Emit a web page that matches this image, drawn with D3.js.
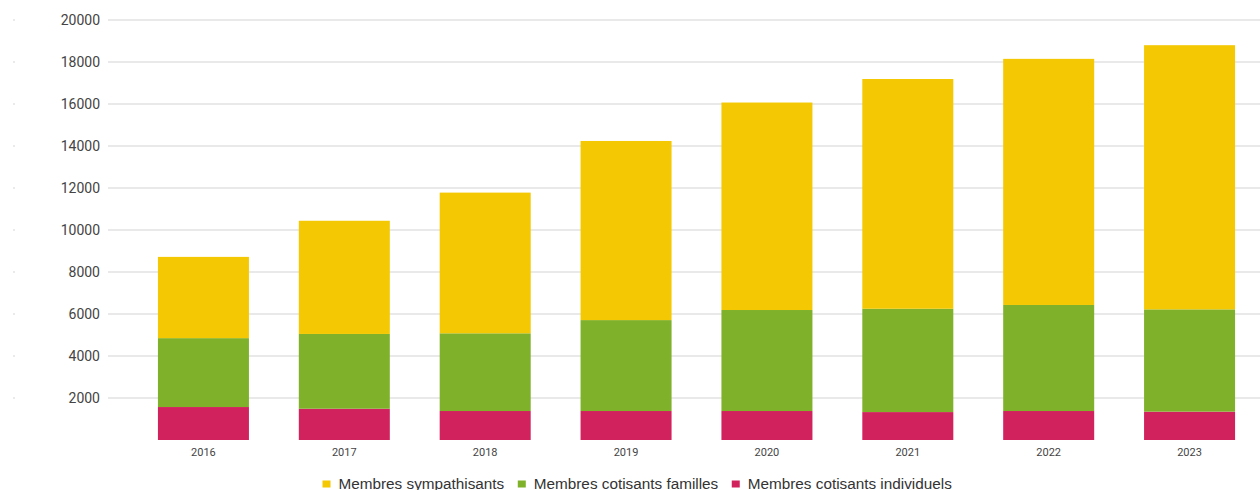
<!DOCTYPE html>
<html>
<head>
<meta charset="utf-8">
<script src="https://cdn.jsdelivr.net/npm/d3@7"></script>
<style>
  body { margin: 0; background: #fff; }
</style>
</head>
<body>
<div id="here"></div>
<script>
var years = ['2016', '2017', '2018', '2019', '2020', '2021', '2022', '2023'];
var individuels = [1570, 1490, 1380, 1380, 1380, 1330, 1380, 1350];
var familles = [3280, 3560, 3700, 4330, 4810, 4920, 5050, 4870];
var sympathisants = [3870, 5390, 6700, 8530, 9880, 10940, 11720, 12580];
var yTicks = [2000, 4000, 6000, 8000, 10000, 12000, 14000, 16000, 18000, 20000];

var series = [
  {name: 'Membres sympathisants', color: '#f4c802'},
  {name: 'Membres cotisants familles', color: '#7fb22a'},
  {name: 'Membres cotisants individuels', color: '#d2225e'}
];

var w = 1260, h = 490;

var rows = years.map(function(y, i) {
  return {year: y, ind: individuels[i], fam: familles[i], sym: sympathisants[i]};
});
var stacked = d3.stack().keys(['ind', 'fam', 'sym'])(rows);
var colors = {ind: '#d2225e', fam: '#7fb22a', sym: '#f4c802'};

var x = d3.scaleBand().domain(years).range([133, 1260]).paddingInner(0.354).paddingOuter(0.177);
var y = d3.scaleLinear().domain([0, 20000]).range([440, 20]);

var svg = d3.select('#here').append('svg')
  .attr('width', w)
  .attr('height', h)
  .style('display', 'block');

// grid + tick labels
var grid = svg.append('g');
grid.selectAll('line').data(yTicks).enter().append('line')
  .attr('x1', 108).attr('x2', w)
  .attr('y1', function(d) { return y(d); })
  .attr('y2', function(d) { return y(d); })
  .attr('stroke', '#e2e2e2')
  .attr('stroke-width', 1.3);

grid.selectAll('circle').data(yTicks).enter().append('circle')
  .attr('cx', 14).attr('cy', function(d) { return y(d); })
  .attr('r', 0.8).attr('fill', '#d0d0d0');

grid.selectAll('text').data(yTicks).enter().append('text')
  .attr('x', 100)
  .attr('y', function(d) { return y(d); })
  .attr('dy', '0.35em')
  .attr('text-anchor', 'end')
  .attr('fill', '#444')
  .style('font-family', 'Roboto, sans-serif')
  .style('font-size', '14px')
  .text(function(d) { return d; });

// bars
svg.selectAll('.layer').data(stacked).enter().append('g')
  .attr('class', 'layer')
  .attr('fill', function(d) { return colors[d.key]; })
  .selectAll('rect').data(function(d) { return d; }).enter().append('rect')
  .attr('x', function(d) { return x(d.data.year); })
  .attr('width', x.bandwidth())
  .attr('y', function(d) { return y(d[1]); })
  .attr('height', function(d) { return y(d[0]) - y(d[1]); });

// x labels
svg.append('g').selectAll('text').data(years).enter().append('text')
  .attr('x', function(d) { return x(d) + x.bandwidth() / 2; })
  .attr('y', 456)
  .attr('text-anchor', 'middle')
  .attr('fill', '#444')
  .style('font-family', 'Roboto, sans-serif')
  .style('font-size', '11px')
  .text(function(d) { return d; });

// legend
var legend = svg.append('g');
var lx = 322.5;
series.forEach(function(s) {
  legend.append('rect')
    .attr('x', lx).attr('y', 480.5)
    .attr('width', 8).attr('height', 7)
    .attr('fill', s.color);
  var t = legend.append('text')
    .attr('x', lx + 16).attr('y', 488.5)
    .attr('fill', '#333')
    .style('font-family', '"Liberation Sans", Arial, sans-serif')
    .style('font-size', '15.3px')
    .text(s.name);
  lx += 16 + t.node().getComputedTextLength() + 13.5;
});
</script>
</body>
</html>
